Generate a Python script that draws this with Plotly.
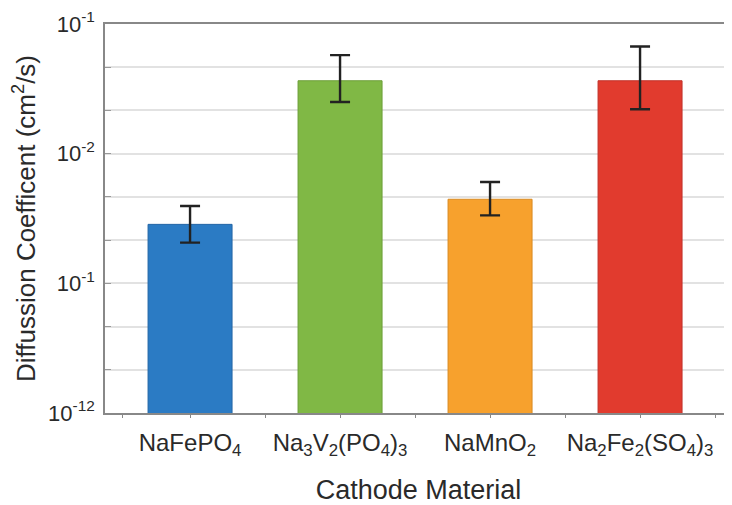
import plotly.graph_objects as go

categories = ["NaFePO<sub>4</sub>", "Na<sub>3</sub>V<sub>2</sub>(PO<sub>4</sub>)<sub>3</sub>",
              "NaMnO<sub>2</sub>", "Na<sub>2</sub>Fe<sub>2</sub>(SO<sub>4</sub>)<sub>3</sub>"]
values = [2.85e-11, 3.65e-10, 4.45e-11, 3.65e-10]
err_upper = [3.95e-11, 5.75e-10, 6.05e-11, 6.7e-10]
err_lower = [2.06e-11, 2.5e-10, 3.34e-11, 2.2e-10]
colors = ["#2b7bc4", "#80b845", "#f7a12d", "#e13b2e"]
line_colors = ["#2466a6", "#6c9e38", "#d98a22", "#c2322a"]

ytick_vals = [1e-9, 1e-10, 1e-11, 1e-12]
ytick_text = ["10<sup>-1</sup>", "10<sup>-2</sup>", "10<sup>-1</sup>", "10<sup>-12</sup>"]
minor_vals = [10 ** (-9 - k / 3) for k in range(1, 9) if k % 3 != 0]

xpos = list(range(len(categories)))
plus = [u - v for u, v in zip(err_upper, values)]
minus = [v - l for v, l in zip(values, err_lower)]

fig = go.Figure(go.Bar(
    x=xpos, y=values, width=0.56,
    marker=dict(color=colors, line=dict(color=line_colors, width=1)),
    error_y=dict(type="data", symmetric=False, array=plus, arrayminus=minus,
                 color="#222222", thickness=2.4, width=10),
))

fig.update_layout(
    width=724, height=497,
    margin=dict(l=97, r=0, t=14, b=92),
    paper_bgcolor="white", plot_bgcolor="white",
    font=dict(family="Liberation Sans, Arial, sans-serif", color="#2a2a2a"),
    showlegend=False,
)
fig.update_xaxes(
    range=[-0.567, 3.613],
    tickmode="array", tickvals=xpos, ticktext=categories,
    tickfont=dict(size=24),
    ticks="outside", ticklen=3, tickcolor="#888888",
    minor=dict(tickmode="array", tickvals=[-0.45, 0.5, 1.5, 2.5, 3.5],
               ticks="outside", ticklen=3, tickcolor="#888888"),
    showline=True, linecolor="#888888", linewidth=1.5, mirror=True,
    showgrid=False, zeroline=False,
    ticklabelstandoff=4,
    title=dict(text="Cathode Material", font=dict(size=27), standoff=25),
)
fig.update_yaxes(
    type="log", range=[-12, -9],
    tickmode="array", tickvals=ytick_vals, ticktext=ytick_text,
    tickfont=dict(size=22),
    ticks="inside", ticklen=6, tickcolor="#999999",
    showline=True, linecolor="#888888", linewidth=1.5,
    showgrid=True, gridcolor="#e2e2e2", gridwidth=1.5,
    minor=dict(tickmode="array", tickvals=minor_vals, ticks="inside", ticklen=6,
               tickcolor="#999999", showgrid=True, gridcolor="#e2e2e2", gridwidth=1.5),
    zeroline=False,
    ticklabelstandoff=4,
    ticklabeloverflow="allow",
    title=dict(text="Diffussion Coefficent (cm<sup>2</sup>/s)", font=dict(size=26), standoff=10),
)

fig.write_html("out.html")
